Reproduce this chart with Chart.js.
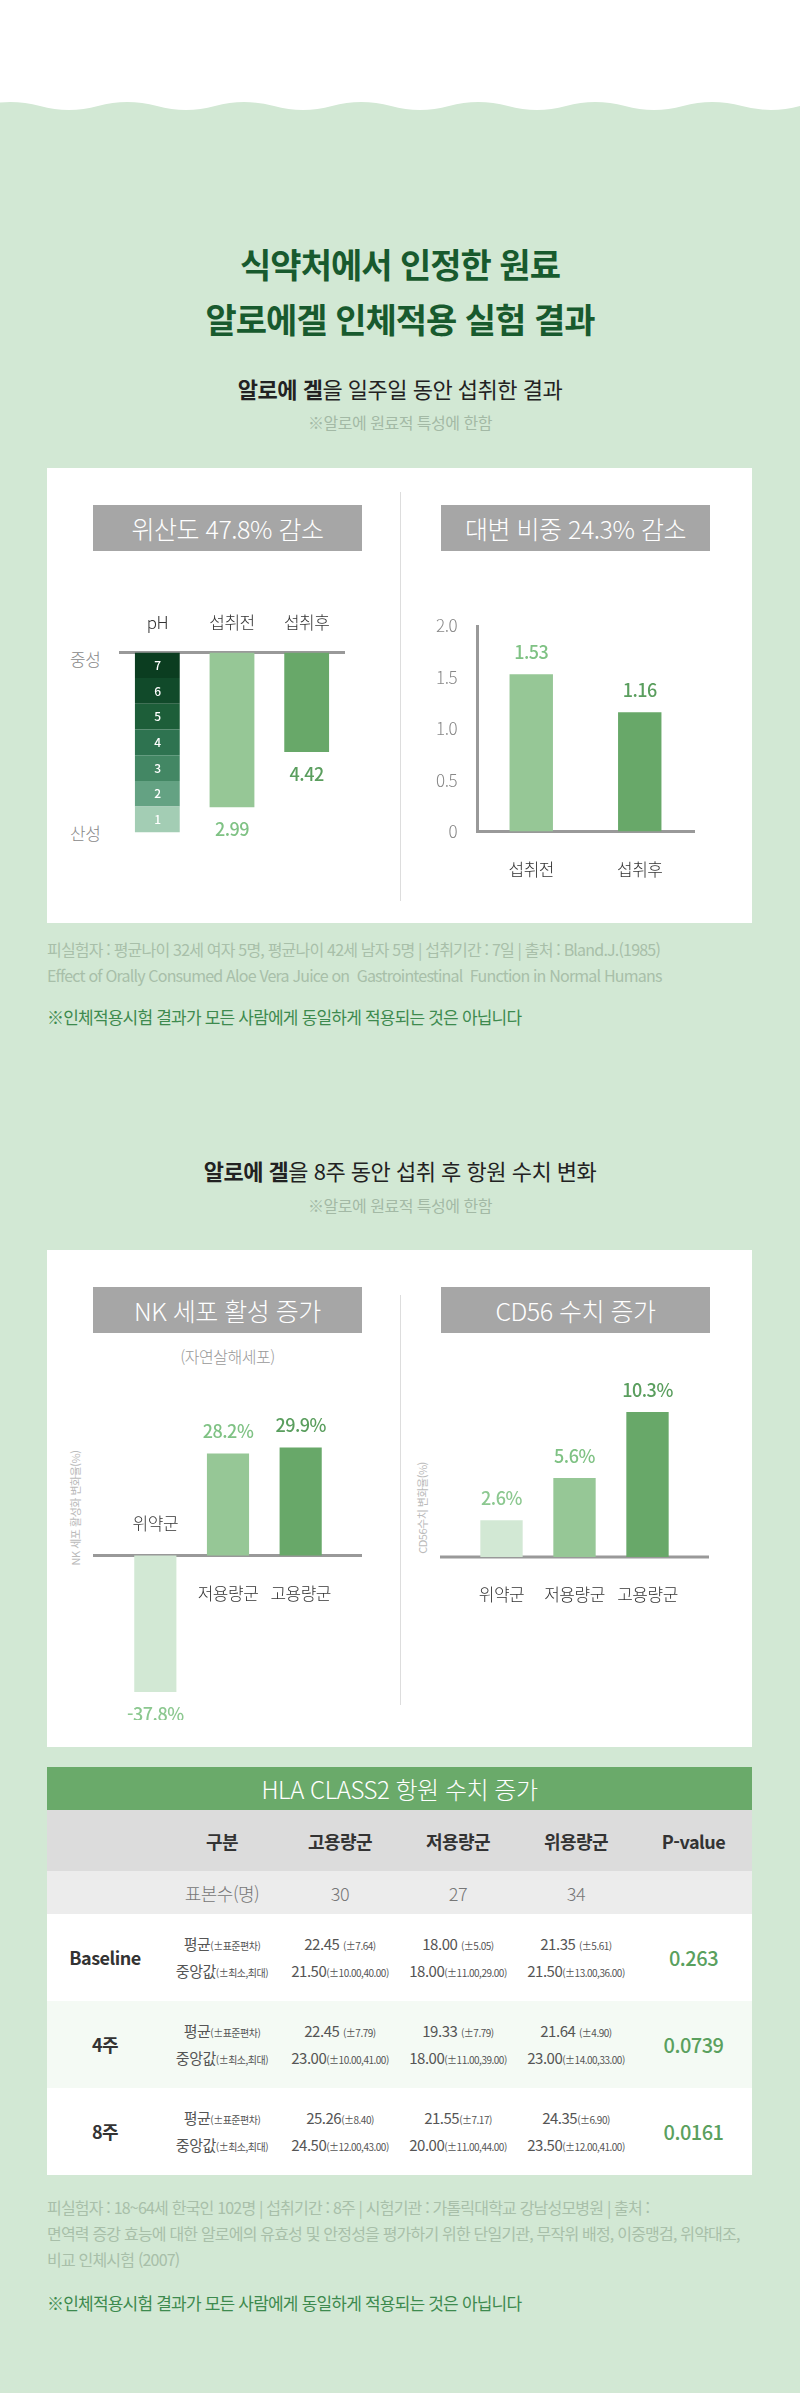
<!DOCTYPE html>
<html lang="ko">
<head>
<meta charset="utf-8">
<script src="https://cdn.jsdelivr.net/npm/chart.js@4.4.1/dist/chart.umd.min.js"></script>
<style>
  body { margin: 0; width: 800px; height: 2393px; background: #d2e8d4; position: relative; overflow: hidden;
         font-family: "Noto Sans CJK KR", "Noto Sans", sans-serif; letter-spacing: -0.5px; }
  .abs { position: absolute; }
  .c { text-align: center; left: 0; width: 800px; }
  .title { color: #185a2e; font-size: 34px; font-weight: 700; line-height: 55px; letter-spacing: -1px; }
  .sub { color: #222; font-size: 22px; }
  .sub b { font-weight: 700; }
  .note { color: #a3b9a5; font-size: 16px; }
  .card { background: #fff; left: 47px; width: 705px; }
  .hbox { background: #a6a6a6; color: #fff; font-size: 25px; font-weight: 300; height: 46px; line-height: 46px; text-align: center; width: 269px; }
  .vline { width: 1px; background: #ddd; left: 400px; }
  .foot { color: #a8bfa9; font-size: 16px; left: 47px; width: 710px; line-height: 26px; letter-spacing: -0.8px; }
  .warn { color: #3d8a4e; font-size: 17px; left: 47px; letter-spacing: -0.8px; }
  .side { color: #888; font-size: 17px; font-weight: 300; }
  .vert { color: #bbb; font-size: 11px; transform: rotate(-90deg); transform-origin: center; white-space: nowrap; width: 240px; text-align: center; }
  canvas { position: absolute; }
  table { position: absolute; left: 47px; top: 1767px; width: 705px; border-collapse: collapse; }
  td, th { padding: 0; text-align: center; }
  .thead td { background: #6aaa6a; color: #fff; font-size: 24px; font-weight: 300; height: 43px; }
  .colh td { background: #dcdcdc; color: #333; font-size: 18px; font-weight: 700; height: 61px; }
  .samp td { background: #ececec; color: #777; font-size: 18px; font-weight: 300; height: 43px; }
  .row td { height: 87px; font-size: 15px; color: #555; line-height: 25px; }
  .row small { font-size: 10px; }
  .row .lab { font-size: 18px; font-weight: 700; color: #333; }
  .row .p { font-size: 20px; color: #5aa05e; font-weight: 500; }
  .alt td { background: #f4faf4; }
  .wh td { background: #fff; }
</style>
</head>
<body>
<svg class="abs" style="left:0;top:0" width="800" height="112">
  <path id="wave" fill="#fff" d=""></path>
</svg>

<div class="abs c title" style="top:236px">식약처에서 인정한 원료<br>알로에겔 인체적용 실험 결과</div>
<div class="abs c sub" style="top:372px"><b>알로에 겔</b>을 일주일 동안 섭취한 결과</div>
<div class="abs c note" style="top:410px">※알로에 원료적 특성에 한함</div>

<div class="abs card" style="top:468px;height:455px"></div>
<div class="abs hbox" style="left:93px;top:505px">위산도 47.8% 감소</div>
<div class="abs hbox" style="left:441px;top:505px">대변 비중 24.3% 감소</div>
<div class="abs vline" style="top:492px;height:409px"></div>
<div class="abs side" style="left:70px;top:646px">중성</div>
<div class="abs side" style="left:70px;top:820px">산성</div>
<canvas id="phChart" width="290" height="240" style="left:80px;top:600px"></canvas>
<canvas id="stoolChart" width="290" height="300" style="left:420px;top:600px"></canvas>

<div class="abs foot" style="top:936px">피실험자 : 평균나이 32세 여자 5명, 평균나이 42세 남자 5명 | 섭취기간 : 7일 | 출처 : Bland.J.(1985)<br>Effect of Orally Consumed Aloe Vera Juice on &nbsp;Gastrointestinal &nbsp;Function in Normal Humans</div>
<div class="abs warn" style="top:1004px">※인체적용시험 결과가 모든 사람에게 동일하게 적용되는 것은 아닙니다</div>

<div class="abs c sub" style="top:1154px"><b>알로에 겔</b>을 8주 동안 섭취 후 항원 수치 변화</div>
<div class="abs c note" style="top:1193px">※알로에 원료적 특성에 한함</div>

<div class="abs card" style="top:1250px;height:497px"></div>
<div class="abs hbox" style="left:93px;top:1287px">NK 세포 활성 증가</div>
<div class="abs hbox" style="left:441px;top:1287px">CD56 수치 증가</div>
<div class="abs vline" style="top:1295px;height:410px"></div>
<div class="abs" style="left:93px;width:269px;text-align:center;top:1344px;color:#999;font-size:16px;font-weight:300">(자연살해세포)</div>
<div class="abs vert" style="left:-45px;top:1500px">NK 세포 활성화 변화율(%)</div>
<div class="abs vert" style="left:302px;top:1500px">CD56수치 변화율(%)</div>
<canvas id="nkChart" width="269" height="340" style="left:93px;top:1380px"></canvas>
<canvas id="cdChart" width="269" height="260" style="left:440px;top:1360px"></canvas>

<table>
  <tr class="thead"><td colspan="6">HLA CLASS2 항원 수치 증가</td></tr>
  <tr class="colh"><td style="width:116px"></td><td style="width:118px">구분</td><td style="width:118px">고용량군</td><td style="width:118px">저용량군</td><td style="width:118px">위용량군</td><td>P-value</td></tr>
  <tr class="samp"><td></td><td>표본수(명)</td><td>30</td><td>27</td><td>34</td><td></td></tr>
  <tr class="row wh"><td class="lab">Baseline</td><td>평균<small>(±표준편차)</small><br>중앙값<small>(±최소,최대)</small></td><td>22.45 <small>(±7.64)</small><br>21.50<small>(±10.00,40.00)</small></td><td>18.00 <small>(±5.05)</small><br>18.00<small>(±11.00,29.00)</small></td><td>21.35 <small>(±5.61)</small><br>21.50<small>(±13.00,36.00)</small></td><td class="p">0.263</td></tr>
  <tr class="row alt"><td class="lab">4주</td><td>평균<small>(±표준편차)</small><br>중앙값<small>(±최소,최대)</small></td><td>22.45 <small>(±7.79)</small><br>23.00<small>(±10.00,41.00)</small></td><td>19.33 <small>(±7.79)</small><br>18.00<small>(±11.00,39.00)</small></td><td>21.64 <small>(±4.90)</small><br>23.00<small>(±14.00,33.00)</small></td><td class="p">0.0739</td></tr>
  <tr class="row wh"><td class="lab">8주</td><td>평균<small>(±표준편차)</small><br>중앙값<small>(±최소,최대)</small></td><td>25.26<small>(±8.40)</small><br>24.50<small>(±12.00,43.00)</small></td><td>21.55<small>(±7.17)</small><br>20.00<small>(±11.00,44.00)</small></td><td>24.35<small>(±6.90)</small><br>23.50<small>(±12.00,41.00)</small></td><td class="p">0.0161</td></tr>
</table>

<div class="abs foot" style="top:2194px">피실험자 : 18~64세 한국인 102명 | 섭취기간 : 8주 | 시험기관 : 가톨릭대학교 강남성모병원 | 출처 :<br>면역력 증강 효능에 대한 알로에의 유효성 및 안정성을 평가하기 위한 단일기관, 무작위 배정, 이중맹검, 위약대조, 비교 인체시험 (2007)</div>
<div class="abs warn" style="top:2290px">※인체적용시험 결과가 모든 사람에게 동일하게 적용되는 것은 아닙니다</div>

<script>
// wavy edge of the top white band
(function () {
  let d = 'M0 0 L800 0 L800 106';
  for (let x = 800; x > 0; x -= 117) {
    d += ' Q' + (x - 29) + ' 114 ' + (x - 58) + ' 106 Q' + (x - 88) + ' 98 ' + (x - 117) + ' 106';
  }
  document.getElementById('wave').setAttribute('d', d + ' L0 0 Z');
})();

const FONT = '"Noto Sans CJK KR", "Noto Sans", sans-serif';
const LIGHT = '#96c796';
const DARK = '#68a869';
const PALE = '#d2e8d4';

// stomach pH
const phCategories = ['pH', '섭취전', '섭취후'];
const phLevels = [1, 2, 3, 4, 5, 6, 7];
const phColors = ['#a3cdb4', '#64a283', '#438764', '#2e7350', '#1d5e39', '#114a2a', '#0b3d20'];
const phValues = [2.99, 4.42];

// stool density
const stoolCategories = ['섭취전', '섭취후'];
const stoolValues = [1.53, 1.16];
const stoolTicks = [0, 0.5, 1, 1.5, 2];

// NK cell activity change (%)
const nkCategories = ['위약군', '저용량군', '고용량군'];
const nkValues = [-37.8, 28.2, 29.9];

// CD56 change (%)
const cdCategories = ['위약군', '저용량군', '고용량군'];
const cdValues = [2.6, 5.6, 10.3];

const valueLabels = {
  id: 'valueLabels',
  afterDatasetsDraw(chart, args, opts) {
    const ctx = chart.ctx;
    const ds = chart.data.datasets[opts.dataset || 0];
    const meta = chart.getDatasetMeta(opts.dataset || 0);
    ctx.save();
    ctx.textAlign = 'center';
    ctx.textBaseline = 'middle';
    meta.data.forEach((bar, i) => {
      const raw = ds.data[i];
      if (raw === null) return;
      const v = Array.isArray(raw) ? raw[1] : raw;
      const below = opts.below || v < 0;
      ctx.font = '500 18px ' + FONT;
      ctx.fillStyle = opts.colors[i];
      const y = below ? Math.max(bar.y, bar.base) + 22 : Math.min(bar.y, bar.base) - 22;
      ctx.fillText(opts.format(v), bar.x, y);
      if (opts.cats) {
        ctx.font = '300 17px ' + FONT;
        ctx.fillStyle = '#333';
        const y0 = chart.scales.y.getPixelForValue(0);
        ctx.fillText(chart.data.labels[i], bar.x, v < 0 ? y0 - 32 : y0 + 38);
      }
    });
    ctx.restore();
  },
};

const zeroLine = {
  id: 'zeroLine',
  beforeDatasetsDraw(chart) {
    const ctx = chart.ctx;
    const y0 = chart.scales.y.getPixelForValue(0);
    ctx.save();
    ctx.strokeStyle = '#999';
    ctx.lineWidth = 3;
    ctx.beginPath();
    ctx.moveTo(0, y0);
    ctx.lineTo(chart.width, y0);
    ctx.stroke();
    ctx.restore();
  },
};

const segmentNumbers = {
  id: 'segmentNumbers',
  afterDatasetsDraw(chart) {
    const ctx = chart.ctx;
    ctx.save();
    ctx.font = '500 12px ' + FONT;
    ctx.fillStyle = '#fff';
    ctx.textAlign = 'center';
    ctx.textBaseline = 'middle';
    phLevels.forEach((lv, k) => {
      const bar = chart.getDatasetMeta(k + 1).data[0];
      ctx.fillText(String(lv), bar.x, (bar.y + bar.base) / 2);
    });
    ctx.restore();
  },
};

Chart.defaults.font.family = FONT;
Chart.defaults.animation = false;
Chart.defaults.plugins.legend.display = false;
Chart.defaults.plugins.tooltip.enabled = false;

new Chart(document.getElementById('phChart'), {
  type: 'bar',
  data: {
    labels: phCategories,
    datasets: [
      { data: [null, ...phValues.map((v) => [7, v])], backgroundColor: [null, LIGHT, DARK], yAxisID: 'y', grouped: false, barPercentage: 0.6, categoryPercentage: 1 },
      ...phLevels.map((lv, k) => ({
        data: [[lv - 1, lv], null, null], backgroundColor: phColors[k], yAxisID: 'yph', grouped: false, barPercentage: 0.6, categoryPercentage: 1,
      })),
    ],
  },
  options: {
    responsive: false,
    layout: { padding: { left: 40, right: 26, top: 0, bottom: 0 } },
    scales: {
      x: { position: 'top', grid: { display: false }, border: { color: '#999', width: 3 }, ticks: { color: '#333', font: { size: 17, weight: 300 }, padding: 12 } },
      y: { display: false, min: 2.14, max: 7 },
      yph: { display: false, min: -0.3, max: 7 },
    },
    plugins: { valueLabels: { dataset: 0, below: true, colors: [null, '#7fc284', '#5a9e5e'], format: (v) => v.toFixed(2) } },
  },
  plugins: [valueLabels, segmentNumbers],
});

new Chart(document.getElementById('stoolChart'), {
  type: 'bar',
  data: { labels: stoolCategories, datasets: [{ data: stoolValues, backgroundColor: [LIGHT, DARK], barPercentage: 0.4, categoryPercentage: 1 }] },
  options: {
    responsive: false,
    layout: { padding: { top: 26, right: 16 } },
    scales: {
      x: { grid: { display: false }, border: { color: '#999', width: 3 }, ticks: { color: '#333', font: { size: 17, weight: 300 }, padding: 20 } },
      y: {
        min: 0, max: 2, afterFit: (s) => { s.width = 57; },
        afterBuildTicks: (s) => { s.ticks = stoolTicks.map((v) => ({ value: v })); },
        grid: { display: false }, border: { color: '#999', width: 3 },
        ticks: { color: '#888', font: { size: 17, weight: 300 }, padding: 12 },
      },
    },
    plugins: { valueLabels: { colors: ['#7fc284', '#5a9e5e'], format: (v) => v.toFixed(2) } },
  },
  plugins: [valueLabels],
});

new Chart(document.getElementById('nkChart'), {
  type: 'bar',
  data: { labels: nkCategories, datasets: [{ data: nkValues, backgroundColor: [PALE, LIGHT, DARK], barPercentage: 0.58, categoryPercentage: 1 }] },
  options: {
    responsive: false,
    layout: { padding: { left: 26, right: 25, top: 40, bottom: 20 } },
    scales: { x: { display: false }, y: { display: false, min: -40, max: 37.5 } },
    plugins: { valueLabels: { cats: true, colors: ['#8cc890', '#7fc284', '#5a9e5e'], format: (v) => v.toFixed(1) + '%' } },
  },
  plugins: [zeroLine, valueLabels],
});

new Chart(document.getElementById('cdChart'), {
  type: 'bar',
  data: { labels: cdCategories, datasets: [{ data: cdValues, backgroundColor: [PALE, LIGHT, DARK], barPercentage: 0.58, categoryPercentage: 1 }] },
  options: {
    responsive: false,
    layout: { padding: { left: 25, right: 25, top: 35, bottom: 63 } },
    scales: { x: { display: false }, y: { display: false, min: 0, max: 11.5 } },
    plugins: { valueLabels: { cats: true, colors: ['#8cc890', '#7fc284', '#5a9e5e'], format: (v) => v.toFixed(1) + '%' } },
  },
  plugins: [zeroLine, valueLabels],
});
</script>
</body>
</html>
